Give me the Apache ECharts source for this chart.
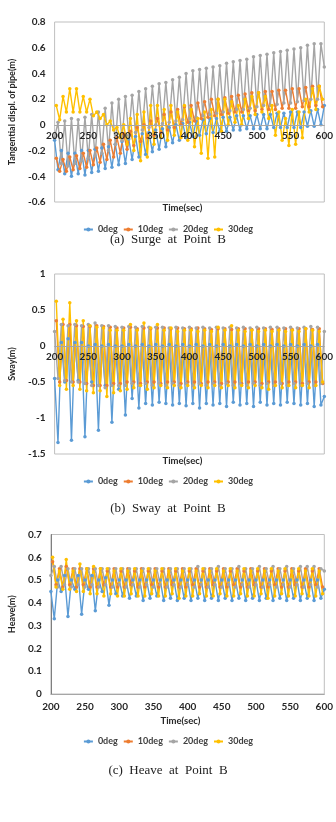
<!DOCTYPE html>
<html><head><meta charset="utf-8">
<script src="https://cdn.jsdelivr.net/npm/echarts@6/dist/echarts.min.js"></script>
<style>html,body{margin:0;padding:0;background:#fff}#c{width:336px;height:822px}</style>
</head><body><div id="c"></div>
<script>
// ---------- data ----------
const seriesNames = ['0deg','10deg','20deg','30deg'];
const xTicks = [200,250,300,350,400,450,500,550,600];
const TIME0 = [200,205,210,215,220,225,230,235,240,245,250,255,260,265,270,275,280,285,290,295,300,305,310,315,320,325,330,335,340,345,350,355,360,365,370,375,380,385,390,395,400,405,410,415,420,425,430,435,440,445,450,455,460,465,470,475,480,485,490,495,500,505,510,515,520,525,530,535,540,545,550,555,560,565,570,575,580,585,590,595,600];
const TIME1 = [202.5,207.5,212.5,217.5,222.5,227.5,232.5,237.5,242.5,247.5,252.5,257.5,262.5,267.5,272.5,277.5,282.5,287.5,292.5,297.5,302.5,307.5,312.5,317.5,322.5,327.5,332.5,337.5,342.5,347.5,352.5,357.5,362.5,367.5,372.5,377.5,382.5,387.5,392.5,397.5,402.5,407.5,412.5,417.5,422.5,427.5,432.5,437.5,442.5,447.5,452.5,457.5,462.5,467.5,472.5,477.5,482.5,487.5,492.5,497.5,502.5,507.5,512.5,517.5,522.5,527.5,532.5,537.5,542.5,547.5,552.5,557.5,562.5,567.5,572.5,577.5,582.5,587.5,592.5,597.5];

// (a) Surge
const surge0 = [-0.12,-0.35,-0.20,-0.38,-0.22,-0.40,-0.22,-0.38,-0.20,-0.39,
 -0.20,-0.37,-0.19,-0.36,-0.18,-0.34,-0.17,-0.33,-0.15,-0.31,
 -0.13,-0.30,-0.11,-0.27,-0.09,-0.25,-0.07,-0.23,-0.06,-0.21,
 -0.04,-0.19,-0.03,-0.17,-0.02,-0.14,0.00,-0.12,0.01,-0.10,
 0.02,-0.09,0.03,-0.08,0.04,-0.07,0.05,-0.06,0.05,-0.05,
 0.06,-0.05,0.06,-0.04,0.07,-0.04,0.07,-0.03,0.07,-0.03,
 0.08,-0.03,0.08,-0.03,0.08,-0.02,0.09,-0.02,0.09,-0.02,
 0.10,-0.02,0.10,-0.02,0.10,-0.01,0.11,-0.01,0.12,0.00,
 0.15];
const surge10 = [-0.26,-0.36,-0.27,-0.36,-0.25,-0.35,-0.24,-0.34,-0.22,-0.33,
 -0.20,-0.31,-0.18,-0.29,-0.15,-0.27,-0.12,-0.25,-0.10,-0.22,
 -0.07,-0.19,-0.05,-0.16,-0.02,-0.13,0.00,-0.10,0.03,-0.08,
 0.05,-0.06,0.08,-0.04,0.10,-0.02,0.12,0.00,0.14,0.02,
 0.15,0.03,0.17,0.05,0.18,0.06,0.20,0.07,0.20,0.08,
 0.21,0.09,0.22,0.10,0.23,0.10,0.24,0.11,0.25,0.11,
 0.25,0.12,0.26,0.12,0.26,0.12,0.27,0.13,0.27,0.13,
 0.28,0.13,0.28,0.14,0.29,0.14,0.30,0.15,0.30,0.14];
const surge20 = [-0.10,0.02,-0.30,0.03,-0.32,0.05,-0.30,0.04,-0.28,0.06,
 -0.26,0.08,-0.24,0.10,-0.22,0.13,-0.20,0.17,-0.15,0.20,
 -0.12,0.22,-0.08,0.23,-0.06,0.26,-0.04,0.28,-0.02,0.30,
 0.00,0.32,0.01,0.33,0.02,0.35,0.03,0.37,0.04,0.40,
 0.05,0.42,0.06,0.43,0.07,0.44,0.08,0.45,0.09,0.46,
 0.10,0.48,0.11,0.49,0.12,0.50,0.12,0.51,0.13,0.53,
 0.14,0.54,0.15,0.55,0.15,0.56,0.16,0.57,0.17,0.58,
 0.17,0.59,0.18,0.60,0.19,0.62,0.20,0.63,0.20,0.63,
 0.45];
const surge30 = [0.15,0.04,0.22,0.10,0.28,0.10,0.28,0.10,0.22,0.10,
 0.20,0.07,0.10,0.05,0.08,0.00,0.03,-0.04,-0.02,-0.10,
 0.00,-0.15,0.05,-0.20,0.08,-0.28,0.10,-0.25,0.15,-0.15,
 0.15,-0.10,0.12,-0.12,0.15,-0.08,0.10,-0.10,0.15,-0.12,
 0.12,-0.17,0.05,-0.22,0.10,-0.26,0.12,-0.25,0.20,-0.05,
 0.20,0.00,0.18,0.02,0.15,0.00,0.20,0.05,0.22,0.08,
 0.25,0.10,0.22,0.05,0.15,-0.08,0.10,-0.12,0.05,-0.16,
 0.12,-0.15,0.10,-0.10,0.20,0.10,0.28,0.12,0.30,0.20];

// (b) Sway
const sway0 = [-0.45,-1.34,0.05,-0.50,0.10,-1.31,0.05,-0.48,0.05,-1.26,
 0.00,-0.50,0.02,-1.17,0.00,-0.55,0.02,-1.06,0.00,-0.60,
 0.00,-0.96,0.02,-0.73,0.00,-0.86,0.02,-0.80,0.00,-0.82,
 0.02,-0.78,0.00,-0.80,0.02,-0.82,0.00,-0.80,0.02,-0.83,
 0.00,-0.80,0.02,-0.86,0.00,-0.80,0.02,-0.82,0.00,-0.80,
 0.02,-0.84,0.00,-0.78,0.02,-0.82,0.00,-0.80,0.02,-0.84,
 0.00,-0.78,0.02,-0.82,0.00,-0.80,0.02,-0.82,0.00,-0.78,
 0.02,-0.80,0.00,-0.82,0.02,-0.80,0.00,-0.84,0.02,-0.82,
 -0.70];
const sway10 = [0.35,-0.50,0.30,-0.48,0.30,-0.50,0.28,-0.50,0.27,-0.52,
 0.27,-0.55,0.28,-0.55,0.27,-0.55,0.26,-0.52,0.25,-0.52,
 0.25,-0.50,0.26,-0.50,0.24,-0.52,0.25,-0.50,0.24,-0.50,
 0.25,-0.52,0.25,-0.50,0.24,-0.50,0.25,-0.52,0.24,-0.50,
 0.24,-0.50,0.25,-0.52,0.24,-0.50,0.23,-0.50,0.24,-0.52,
 0.24,-0.50,0.23,-0.50,0.24,-0.52,0.24,-0.50,0.23,-0.50,
 0.24,-0.52,0.24,-0.50,0.23,-0.50,0.24,-0.52,0.24,-0.50,
 0.23,-0.50,0.24,-0.52,0.24,-0.50,0.23,-0.50,0.24,-0.52];
const sway20 = [0.20,-0.45,0.30,-0.48,0.28,-0.50,0.30,-0.50,0.28,-0.52,
 0.30,-0.55,0.32,-0.55,0.28,-0.58,0.28,-0.55,0.27,-0.55,
 0.26,-0.55,0.27,-0.52,0.26,-0.55,0.27,-0.52,0.26,-0.55,
 0.26,-0.52,0.26,-0.55,0.25,-0.52,0.26,-0.55,0.25,-0.52,
 0.26,-0.55,0.25,-0.52,0.26,-0.55,0.25,-0.52,0.26,-0.55,
 0.25,-0.52,0.26,-0.55,0.25,-0.52,0.26,-0.55,0.25,-0.52,
 0.26,-0.55,0.25,-0.52,0.26,-0.55,0.26,-0.52,0.25,-0.55,
 0.26,-0.52,0.25,-0.55,0.26,-0.52,0.27,-0.55,0.26,-0.52,
 0.20];
const sway30 = [0.62,-0.55,0.37,-0.60,0.60,-0.55,0.35,-0.60,0.35,-0.62,
 0.28,-0.65,0.26,-0.62,0.25,-0.70,0.22,-0.65,0.22,-0.62,
 0.22,-0.60,0.30,-0.58,0.22,-0.55,0.32,-0.60,0.25,-0.58,
 0.30,-0.55,0.22,-0.58,0.25,-0.55,0.20,-0.58,0.22,-0.55,
 0.22,-0.58,0.20,-0.55,0.22,-0.58,0.20,-0.55,0.26,-0.58,
 0.22,-0.55,0.28,-0.58,0.22,-0.55,0.20,-0.58,0.22,-0.55,
 0.20,-0.58,0.22,-0.60,0.20,-0.55,0.22,-0.58,0.20,-0.55,
 0.22,-0.58,0.20,-0.55,0.24,-0.58,0.22,-0.55,0.20,-0.50];

// (c) Heave
const heave0 = [0.45,0.33,0.50,0.45,0.52,0.34,0.50,0.46,0.52,0.35,
 0.50,0.46,0.52,0.365,0.50,0.45,0.51,0.39,0.50,0.44,
 0.50,0.43,0.50,0.42,0.50,0.43,0.50,0.41,0.50,0.42,
 0.50,0.43,0.50,0.41,0.50,0.42,0.50,0.41,0.50,0.42,
 0.50,0.41,0.50,0.42,0.50,0.41,0.50,0.42,0.50,0.41,
 0.50,0.42,0.50,0.41,0.50,0.42,0.50,0.41,0.50,0.42,
 0.50,0.41,0.50,0.42,0.50,0.41,0.50,0.42,0.50,0.41,
 0.50,0.42,0.50,0.41,0.50,0.42,0.50,0.41,0.50,0.42,
 0.46];
const heave10 = [0.58,0.48,0.55,0.47,0.56,0.48,0.55,0.47,0.55,0.48,
 0.55,0.47,0.55,0.47,0.55,0.48,0.54,0.47,0.55,0.47,
 0.54,0.47,0.55,0.48,0.54,0.47,0.55,0.47,0.54,0.48,
 0.55,0.47,0.54,0.47,0.55,0.48,0.54,0.47,0.55,0.47,
 0.54,0.48,0.55,0.47,0.54,0.47,0.55,0.48,0.54,0.47,
 0.55,0.47,0.54,0.48,0.55,0.47,0.54,0.47,0.55,0.48,
 0.54,0.47,0.55,0.47,0.54,0.48,0.55,0.47,0.54,0.47,
 0.55,0.48,0.54,0.47,0.55,0.47,0.54,0.48,0.55,0.47];
const heave20 = [0.52,0.56,0.47,0.56,0.48,0.55,0.47,0.55,0.48,0.55,
 0.47,0.55,0.48,0.55,0.47,0.55,0.48,0.55,0.47,0.55,
 0.48,0.55,0.47,0.55,0.48,0.55,0.47,0.55,0.48,0.55,
 0.47,0.55,0.48,0.55,0.47,0.55,0.48,0.55,0.47,0.55,
 0.48,0.55,0.47,0.56,0.48,0.55,0.47,0.55,0.48,0.56,
 0.47,0.55,0.48,0.55,0.47,0.56,0.48,0.55,0.47,0.55,
 0.48,0.56,0.47,0.55,0.48,0.56,0.47,0.55,0.48,0.56,
 0.47,0.55,0.48,0.56,0.47,0.56,0.48,0.56,0.47,0.55,
 0.54];
const heave30 = [0.60,0.47,0.54,0.46,0.59,0.46,0.54,0.45,0.57,0.45,
 0.55,0.44,0.56,0.44,0.55,0.43,0.55,0.44,0.54,0.43,
 0.55,0.43,0.54,0.44,0.55,0.43,0.54,0.43,0.55,0.44,
 0.54,0.43,0.55,0.43,0.54,0.44,0.55,0.42,0.54,0.43,
 0.55,0.43,0.54,0.44,0.55,0.43,0.54,0.43,0.55,0.44,
 0.54,0.43,0.55,0.43,0.54,0.44,0.55,0.43,0.54,0.43,
 0.55,0.44,0.54,0.42,0.55,0.43,0.54,0.44,0.55,0.43,
 0.54,0.43,0.55,0.44,0.54,0.43,0.55,0.43,0.54,0.44];

const yTitles = ['Tangential displ. of pipe(m)','Sway(m)','Heave(m)'];
const captions = ['(a)  Surge  at  Point  B','(b)  Sway  at  Point  B','(c)  Heave  at  Point  B'];
const xTitle = 'Time(sec)';

// ---------- styling ----------
const COLORS = ['#5B9BD5','#ED7D31','#A5A5A5','#FFC000'];
const FONT = 'Lato, "Open Sans", sans-serif';
const grids = [
  {left:40, top:22, width:285, height:180},
  {left:40, top:274, width:285, height:180},
  {left:36, top:534.5, width:289, height:159.5}
];
const yCfg = [
  {min:-0.6, max:0.8, interval:0.2, gap:34},
  {min:-1.5, max:1, interval:0.5, gap:34},
  {min:0, max:0.7, interval:0.1, gap:31}
];
// x axis sits at value 0 of each y axis: shift it up from the grid bottom by that fraction
const xOffsets = grids.map((g,i) => yCfg[i].min < 0 ? -g.height * (0 - yCfg[i].min) / (yCfg[i].max - yCfg[i].min) : 0);
const seriesSets = [
  [[TIME0,surge0],[TIME1,surge10],[TIME0,surge20],[TIME1,surge30]],
  [[TIME0,sway0],[TIME1,sway10],[TIME0,sway20],[TIME1,sway30]],
  [[TIME0,heave0],[TIME1,heave10],[TIME0,heave20],[TIME1,heave30]]
];
const legendTops = [220, 472, 732];
const xTitleY = [209, 462, 722];
const capY = [241, 510, 772];

const series = [];
seriesSets.forEach((set, g) => {
  set.forEach(([xs, ys], k) => {
    series.push({
      type:'line', name: seriesNames[k], xAxisIndex:g, yAxisIndex:g,
      data: xs.map((x,i)=>[x, ys[i]]),
      symbol:'circle', symbolSize:3.5, showSymbol:true,
      lineStyle:{width:1.4, color:COLORS[k]},
      itemStyle:{color:COLORS[k]},
      animation:false
    });
  });
});

const option = {
  animation:false,
  color: COLORS,
  grid: grids.map(g => Object.assign({show:true, borderColor:'#BFBFBF', borderWidth:1, backgroundColor:'#fff'}, g)),
  xAxis: grids.map((g,i) => ({
    type:'value', gridIndex:i, min:xTicks[0], max:xTicks[xTicks.length-1], interval:xTicks[1]-xTicks[0],
    offset: xOffsets[i], z: 10,
    axisLine:{show:true, onZero:false, lineStyle:{color:'#A6A6A6', width:1}},
    axisTick:{show:false}, splitLine:{show:false},
    axisLabel:{fontFamily:FONT, fontWeight:'bold', fontSize:10, color:'#262626', margin: i===2 ? 8 : 6}
  })),
  yAxis: grids.map((g,i) => ({
    type:'value', gridIndex:i, min:yCfg[i].min, max:yCfg[i].max, interval:yCfg[i].interval,
    axisLine:{show: i===2, lineStyle:{color:'#7F7F7F'}}, axisTick:{show:false}, splitLine:{show:false},
    axisLabel:{fontFamily:FONT, fontWeight:'bold', fontSize:10, color:'#262626', margin:9,
      formatter: v => String(parseFloat(v.toFixed(2)))},
    name: yTitles[i], nameLocation:'middle', nameGap: yCfg[i].gap,
    nameTextStyle:{fontFamily:FONT, fontWeight:'bold', fontSize:9, color:'#262626'}
  })),
  legend: legendTops.map(t => ({
    top:t, left:'center', data:seriesNames, itemWidth:9, itemHeight:5, itemGap:5,
    textStyle:{fontFamily:FONT, fontWeight:'bold', fontSize:9, color:'#404040'}
  })),
  graphic: [
    ...xTitleY.map((y,i) => ({type:'text', left: (grids[i].left + grids[i].width/2) - 20, top: y - 6,
      style:{text:xTitle, font:'bold 9.5px ' + FONT, fill:'#262626'}})),
    ...capY.map((y,i) => ({type:'text', left:'center', top: y - 8,
      style:{text:captions[i], font:'13px "Liberation Serif", "DejaVu Serif", serif', fill:'#222'}}))
  ],
  series
};
const chart = echarts.init(document.getElementById('c'), null, {renderer:'canvas'});
chart.setOption(option);
</script></body></html>
